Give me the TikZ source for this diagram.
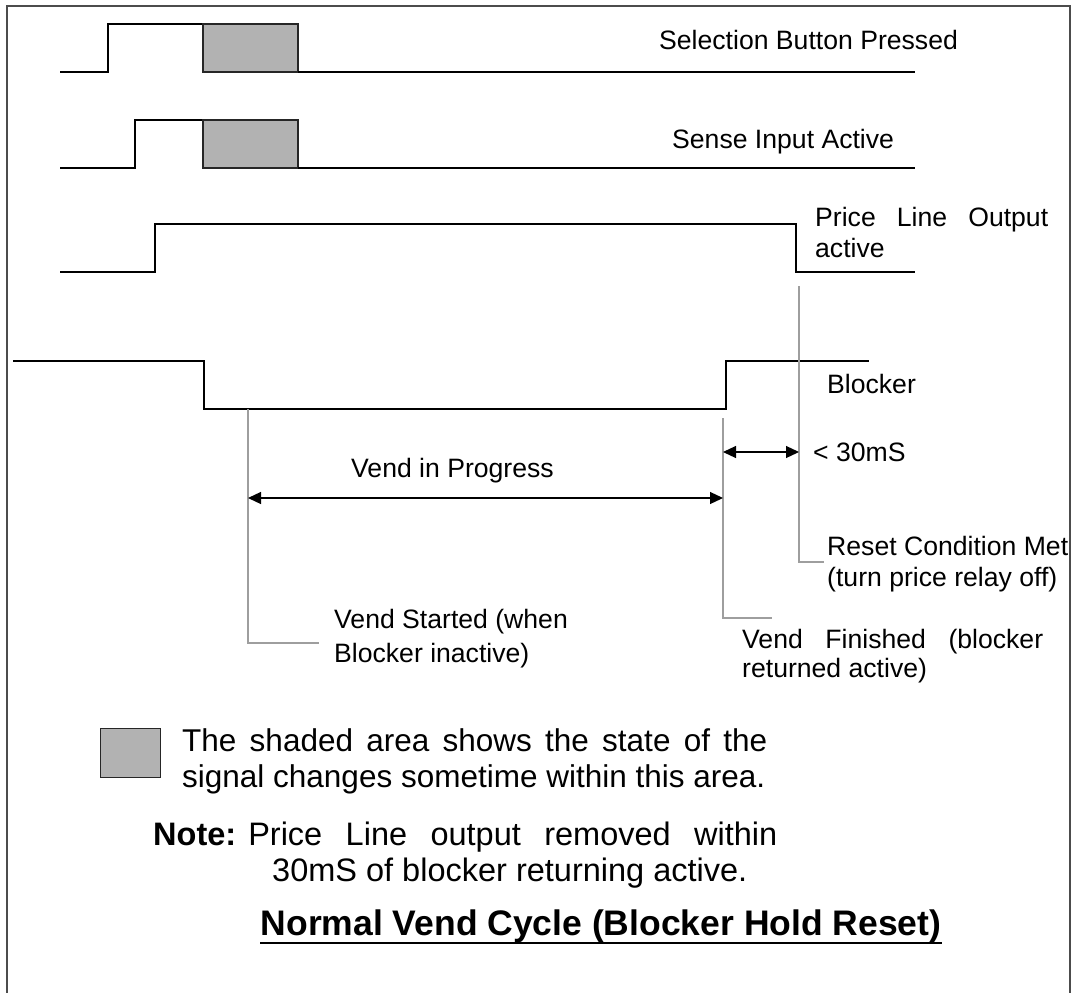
\documentclass[tikz,border=0pt]{standalone}
\usepackage{fontspec}
\setmainfont{Liberation Sans}
\usetikzlibrary{arrows.meta}

\tikzset{
  wave/.style={line width=1.5pt, black},
  leader/.style={line width=1.2pt, black!38},
  shaded/.style={draw=black!85, line width=1.5pt, fill=black!30},
  dimarrow/.style={line width=1.2pt, {Triangle[length=13pt,width=12pt]}-{Triangle[length=13pt,width=12pt]}},
  lbl/.style={inner sep=0pt, anchor=base west, font=\fontsize{26.6}{30}\selectfont},
  big/.style={inner sep=0pt, anchor=base west, font=\fontsize{31.5}{36}\selectfont},
}

\begin{document}
\begin{tikzpicture}[x=1pt,y=-1pt]
       \useasboundingbox (0,0) rectangle (1079,993);
       \draw[black!70, line width=2pt] (7,993) -- (7,6) -- (1070,6) -- (1070,993);

       % Selection Button Pressed
       \draw[wave] (60,72) -- (108,72) -- (108,24) -- (203,24);
       \draw[shaded] (203,24) rectangle (298,72);
       \draw[wave] (298,72) -- (915,72);
       \node[lbl](SB) at (659,49) {Selection Button Pressed};

       % Sense Input Active
       \draw[wave] (60,168) -- (135,168) -- (135,120) -- (203,120);
       \draw[shaded] (203,120) rectangle (298,168);
       \draw[wave] (298,168) -- (915,168);
       \node[lbl](SI) at (672,148.5) {Sense Input Active};

       % Price Line Output
       \draw[wave] (60,272) -- (155,272) -- (155,224) -- (796,224) -- (796,272) -- (915,272);
       \node[lbl](PL) at (815,226) {\makebox[233pt][s]{Price Line Output}};
       \node[lbl](PLa) at (815,257) {active};

       % Blocker
       \draw[wave] (13,361) -- (204,361) -- (204,409) -- (726,409) -- (726,361) -- (869,361);
       \node[lbl](BL) at (827,393) {Blocker};

       % leaders
       \coordinate(VS) at (248,409);
       \coordinate(VSe) at (319,643);
       \coordinate(VF) at (723,418);
       \coordinate(VFe) at (772,618);
       \coordinate(RC) at (799,286);
       \coordinate(RCe) at (824,562);
       \draw[leader] (VS) |- (VSe);
       \draw[leader] (VF) |- (VFe);
       \draw[leader] (RC) |- (RCe);

       % arrows
       \coordinate(P1) at (248,498);
       \coordinate(P2) at (723,498);
       \coordinate(M1) at (723,452);
       \coordinate(M2) at (799,452);
       \draw[dimarrow] (P1) -- (P2);
       \draw[dimarrow] (M1) -- (M2);
       \node[lbl](VIP) at (351,477) {Vend in Progress};
       \node[lbl](MS) at (813,461) {< 30mS};

       \node[lbl](RS) at (827,555) {Reset Condition Met};
       \node[lbl](RSb) at (827,586) {(turn price relay off)};
       \node[lbl](VFt) at (742,648.5) {\makebox[301pt][s]{Vend Finished (blocker}};
       \node[lbl](VFb) at (742,677) {returned active)};
       \node[lbl](VSt) at (334,628) {Vend Started (when};
       \node[lbl](VSb) at (334,662) {Blocker inactive)};

       % key
       \draw[shaded, line width=1pt] (100,728) rectangle (160,777);
       \node[big](K1) at (182,751) {\makebox[585pt][s]{The shaded area shows the state of the}};
       \node[big](K2) at (182,787) {signal changes sometime within this area.};

       \node[big, font=\fontsize{32.5}{36}\selectfont](N1) at (153,845) {\textbf{Note:} \makebox[529pt][s]{Price Line output removed within}};
       \node[big, font=\fontsize{32.5}{36}\selectfont](N2) at (272,881) {30mS of blocker returning active.};

       \node[inner sep=0pt, anchor=base, font=\bfseries\fontsize{35.5}{42}\selectfont](T) at (601,935) {Normal Vend Cycle (Blocker Hold Reset)};
       \draw[line width=2.5pt] ([yshift=-8pt]T.base west) -- ([yshift=-8pt]T.base east);
\end{tikzpicture}
\end{document}
